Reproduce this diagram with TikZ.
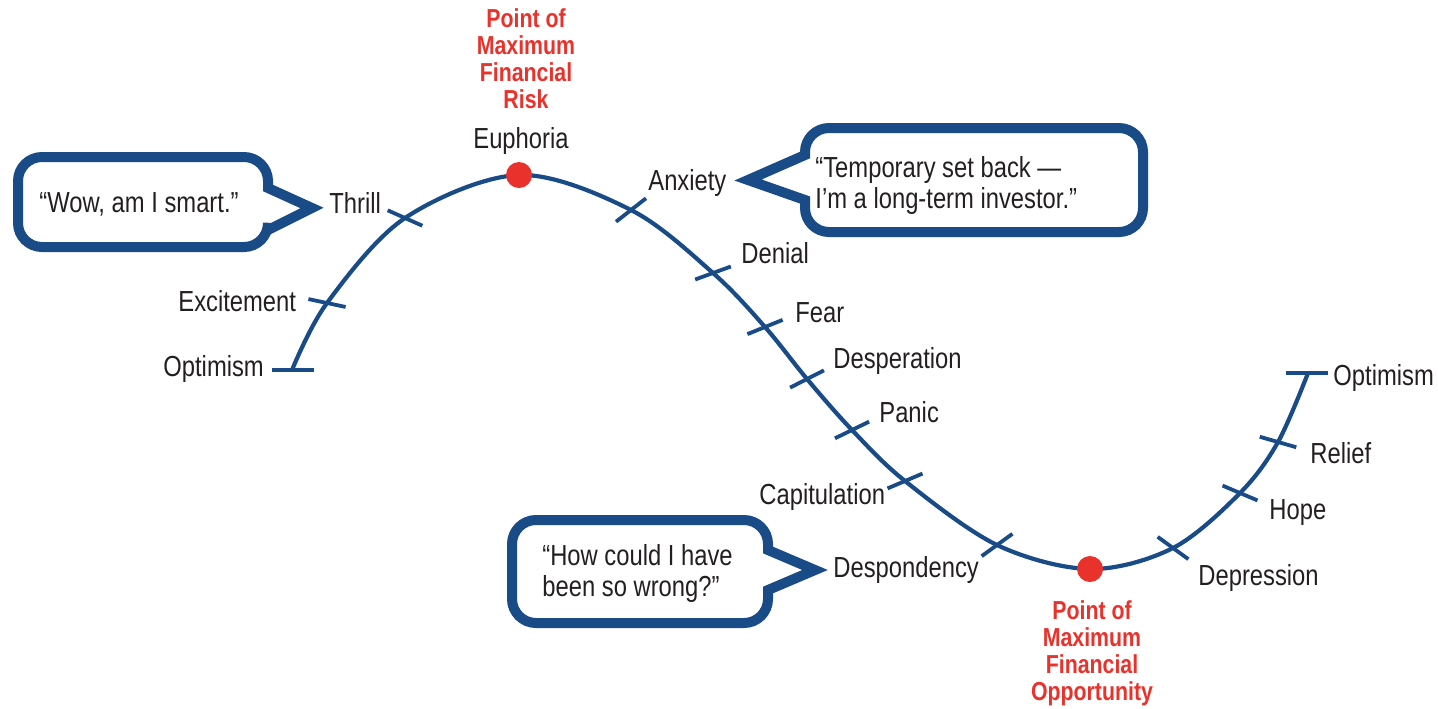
\documentclass[tikz,border=0pt]{standalone}
\usepackage{fontspec}
\setmainfont[FakeStretch=0.82]{Liberation Sans}
\definecolor{cblue}{RGB}{25,75,135}
\definecolor{cred}{RGB}{232,50,43}
\definecolor{ctext}{RGB}{35,31,32}
\newcommand\tk[3]{\draw[tickmark] (#1,#2) ++(#3:19) -- ++(#3+180:38);}
\begin{document}
\begin{tikzpicture}[x=0.5pt,y=-0.5pt,
  lbl/.style={text=ctext, font=\fontsize{14.5}{17}\selectfont, inner sep=0pt},
  bubtxt/.style={text=ctext, font=\fontsize{14.5}{15.5}\selectfont, inner sep=0pt, align=left},
  redlbl/.style={text=cred, font=\fontsize{13}{13.5}\selectfont\bfseries, align=center, inner sep=0pt},
  tickmark/.style={cblue, line width=1.9pt},
  curve/.style={cblue, line width=2.1pt},
  bubble/.style={cblue, line width=5pt, rounded corners=12pt},
  dot/.style={fill=cred}]
\useasboundingbox (0,0) rectangle (1438,708);

% main curve
\draw[curve] plot[smooth, tension=0.55] coordinates {
  (292,370) (327,303) (405,218) (519,175) (631,210) (713,273) (765,327)
  (807,379) (852,430) (905,481) (997,545) (1090,569) (1173,548) (1240,493)
  (1278,442) (1308,373)};

% ticks
\draw[tickmark] (272,370) -- (314,370);
\draw[tickmark] (1286,373) -- (1328,373);
\tk{327}{303}{12}
\tk{405}{218}{24}
\tk{631}{210}{-38}
\tk{713}{273}{-20}
\tk{765}{327}{-22}
\tk{807}{379}{-27}
\tk{852}{430}{-26}
\tk{905}{481}{-23}
\tk{997}{545}{-36}
\tk{1173}{548}{36}
\tk{1240}{493}{23}
\tk{1278}{442}{16}

% red dots
\fill[dot] (519,175) circle[radius=6.5pt];
\fill[dot] (1090,569) circle[radius=6.5pt];

% labels
\node[lbl, anchor=base west] (optL) at (163,376) {Optimism};
\node[lbl, anchor=base west] (exc) at (178,311) {Excitement};
\node[lbl, anchor=base west] (thr) at (329,213) {Thrill};
\node[lbl, anchor=base] (eup) at (521,148) {Euphoria};
\node[lbl, anchor=base west] (anx) at (648,190) {Anxiety};
\node[lbl, anchor=base west] (den) at (741,263) {Denial};
\node[lbl, anchor=base west] (fea) at (795,322) {Fear};
\node[lbl, anchor=base west] (des) at (833,368) {Desperation};
\node[lbl, anchor=base west] (pan) at (879,422) {Panic};
\node[lbl, anchor=base west] (cap) at (759,504) {Capitulation};
\node[lbl, anchor=base west] (dsp) at (833,577) {Despondency};
\node[lbl, anchor=base west] (dpr) at (1198,585) {Depression};
\node[lbl, anchor=base west] (hop) at (1269,519) {Hope};
\node[lbl, anchor=base west] (rel) at (1310,463) {Relief};
\node[lbl, anchor=base west] (optR) at (1333,385) {Optimism};

% red annotations (base = baseline of last line)
\node[redlbl, anchor=base] (risk) at (526,108) {Point of\\Maximum\\Financial\\Risk};
\node[redlbl, anchor=base] (opp) at (1092,700) {Point of\\Maximum\\Financial\\Opportunity};

% bubbles
\draw[bubble] (150,157) -- (268,157) [sharp corners] -- (268,188) -- (312,208) -- (268,230) [rounded corners=12pt] -- (268,247) -- (18,247) -- (18,157) -- cycle;
\node[bubtxt, anchor=base] (b1) at (139,212) {“Wow, am I smart.”};

\draw[bubble] (900,128) -- (1143,128) -- (1143,232) -- (805,232) [sharp corners] -- (805,200) -- (748,180) -- (805,155) [rounded corners=12pt] -- (805,128) -- cycle;
\node[bubtxt, anchor=base west] (b2) at (815,208) {“Temporary set back —\\I’m a long-term investor.”};

\draw[bubble] (640,520) -- (768,520) [sharp corners] -- (768,550) -- (815,570) -- (768,590) [rounded corners=12pt] -- (768,623) -- (512,623) -- (512,520) -- cycle;
\node[bubtxt, anchor=base west] (b3) at (542,596) {“How could I have\\been so wrong?”};
\end{tikzpicture}
\end{document}
